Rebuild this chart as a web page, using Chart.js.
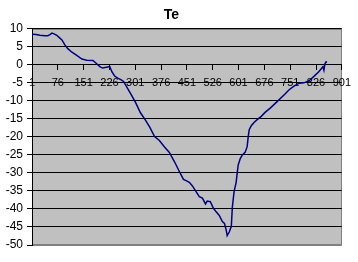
<!DOCTYPE html>
<html>
<head>
<meta charset="utf-8">
<title>Te</title>
<script src="https://cdn.jsdelivr.net/npm/chart.js@4/dist/chart.umd.min.js"></script>
<style>
  html, body { margin: 0; padding: 0; background: #fff; }
  #teChart { display: block; }
</style>
</head>
<body>
<canvas id="teChart" width="358" height="262"></canvas>
<script>
// sample index (category number) and Te value
const sampleIndex = [1, 13, 24, 39, 47, 53, 59, 65, 73, 82, 88, 96, 105, 117, 131, 146, 160, 178, 189, 198,
    206, 221, 227, 233, 241, 250, 259, 267, 279, 290, 302, 316, 331, 343, 357, 371, 386, 400, 415, 429,
    441, 450, 458, 467, 479, 487, 496, 505, 510, 519, 528, 536, 545, 554, 560, 565, 568, 574, 580, 583,
    588, 594, 597, 600, 606, 612, 620, 626, 629, 632, 638, 646, 655, 667, 678, 693, 713, 736, 748, 762,
    777, 791, 806, 820, 834, 843, 846, 849, 852, 855, 858];
const teValues = [8.5, 8.4, 8.2, 8.1, 8.1, 8.4, 8.8, 8.6, 8.2, 7.4, 6.9, 5.6, 4.5, 3.5, 2.6, 1.6, 1.3, 1.2, 0.3, -0.5,
    -0.9, -0.6, -0.5, -1.9, -3.1, -3.7, -4.1, -4.6, -6.6, -8.4, -10.5, -13.3, -15.4, -17.3, -19.9, -21.0, -22.8, -24.3, -26.9, -29.6,
    -31.8, -32.2, -32.6, -33.6, -35.4, -36.6, -37.0, -38.6, -37.8, -38.0, -39.8, -40.8, -41.8, -43.5, -44.0, -45.8, -47.4, -46.4, -44.8, -39.5,
    -35.2, -32.6, -30.1, -27.8, -26.0, -25.0, -24.3, -22.7, -20.0, -18.0, -16.9, -16.0, -15.2, -14.3, -13.2, -12.0, -10.2, -8.1, -6.9, -5.9,
    -5.1, -5.0, -4.4, -3.2, -1.9, -0.9, -0.5, -1.5, 0.3, 0.8, 0.7];
const xTickLabels = [1, 76, 151, 226, 301, 376, 451, 526, 601, 676, 751, 826, 901];

const points = sampleIndex.map((x, i) => ({ x: x, y: teValues[i] }));

// grey plot area with a grey frame, like the Excel chart
const plotBackground = {
    id: 'plotBackground',
    beforeDraw(chart) {
        const { ctx, chartArea: a } = chart;
        ctx.save();
        ctx.fillStyle = '#c0c0c0';
        ctx.fillRect(a.left, a.top, a.right - a.left, a.bottom - a.top);
        ctx.strokeStyle = '#808080';
        ctx.lineWidth = 1;
        ctx.strokeRect(Math.round(a.left) + 0.5, Math.round(a.top) + 0.5,
            Math.round(a.right - a.left) - 1, Math.round(a.bottom - a.top) - 1);
        ctx.restore();
    }
};

new Chart(document.getElementById('teChart'), {
    type: 'line',
    data: {
        datasets: [{
            label: 'Te',
            data: points,
            borderColor: '#000080',
            borderWidth: 1.5,
            pointRadius: 0,
            fill: false,
            tension: 0
        }]
    },
    options: {
        responsive: false,
        animation: false,
        layout: {
            padding: { left: 0, right: 15, top: 1, bottom: 17 }
        },
        plugins: {
            legend: { display: false },
            tooltip: { enabled: false },
            title: {
                display: true,
                text: 'Te',
                color: '#000',
                font: { family: 'Arial, "Liberation Sans"', size: 14, weight: 'bold' },
                padding: { top: 6, bottom: 5 }
            }
        },
        scales: {
            x: {
                type: 'linear',
                position: { y: 0 },
                min: 1,
                max: 901,
                afterBuildTicks: (scale) => {
                    scale.ticks = xTickLabels.map(v => ({ value: v }));
                },
                ticks: {
                    autoSkip: false,
                    maxRotation: 0,
                    color: '#000',
                    padding: 7,
                    font: { family: 'Arial, "Liberation Sans"', size: 11 }
                },
                grid: {
                    drawOnChartArea: false,
                    drawTicks: true,
                    tickLength: 5,
                    color: '#000'
                },
                border: { display: true, color: '#000', width: 1 }
            },
            y: {
                min: -50,
                max: 10,
                afterFit: (scale) => { scale.width = 32; },
                ticks: {
                    stepSize: 5,
                    color: '#000',
                    padding: 4,
                    font: { family: 'Arial, "Liberation Sans"', size: 12 }
                },
                grid: {
                    color: (c) => c.tick && c.tick.value === -50 ? '#808080' : '#000',
                    tickColor: '#000',
                    tickLength: 5,
                    lineWidth: 1
                },
                border: { display: true, color: '#000', width: 1 }
            }
        }
    },
    plugins: [plotBackground]
});
</script>
</body>
</html>
